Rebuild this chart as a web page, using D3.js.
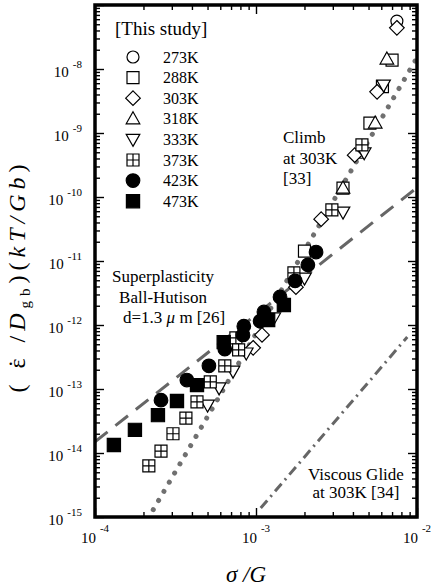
<!DOCTYPE html>
<html>
<head>
<meta charset="utf-8">
<script src="https://cdn.jsdelivr.net/npm/d3@7"></script>
<style>
  body { margin: 0; background: #fff; }
  text { font-family: "Liberation Serif", "Times New Roman", serif; fill: #000; }
</style>
</head>
<body>
<div id="chart"></div>
<script>
// [sigma/G, rate] pairs
const k273 = [[7.5e-3, 5.6e-8], [4.5e-3, 5.0e-10]];
const k288 = [[7.0e-3, 1.38e-8], [6.1e-3, 5.3e-9], [5.1e-3, 1.43e-9], [3.47e-3, 1.38e-10], [2.0e-3, 1.43e-11]];
const k303 = [[7.5e-3, 4.4e-8], [5.65e-3, 4.4e-9], [4.1e-3, 4.5e-10], [2.54e-3, 4.5e-11],
              [1.77e-3, 3.9e-12], [1.09e-3, 7.0e-13], [9.6e-4, 4.4e-13]];
const k318 = [[6.5e-3, 1.43e-8], [5.5e-3, 1.43e-9], [3.47e-3, 1.38e-10]];
const k333 = [[6.2e-3, 5.6e-9], [4.7e-3, 4.9e-10], [3.47e-3, 5.8e-11], [2.0e-3, 5.4e-12],
              [1.29e-3, 1.29e-12], [8.7e-4, 3.65e-13], [7.2e-4, 1.9e-13], [5.9e-4, 1.04e-13], [5.0e-4, 5.6e-14]];
const k373 = [[4.55e-3, 6.5e-10], [2.96e-3, 6.3e-11], [1.72e-3, 6.5e-12], [7.5e-4, 6.3e-13],
              [7.8e-4, 4.1e-13], [6.4e-4, 2.3e-13], [5.2e-4, 1.29e-13], [4.3e-4, 6.3e-14],
              [3.67e-4, 3.5e-14], [3.05e-4, 2.0e-14], [2.57e-4, 1.07e-14], [2.16e-4, 6.3e-15]];
const k423 = [[2.36e-3, 1.38e-11], [2.1e-3, 8.7e-12], [1.75e-3, 4.9e-12], [1.41e-3, 2.74e-12],
              [1.12e-3, 1.6e-12], [1.06e-3, 1.15e-12], [8.4e-4, 9.6e-13], [8.3e-4, 7.0e-13],
              [6.4e-4, 4.2e-13], [5.1e-4, 2.3e-13], [3.72e-4, 1.38e-13], [2.57e-4, 6.7e-14]];
const k473 = [[1.49e-3, 2.05e-12], [1.19e-3, 1.2e-12], [6.3e-4, 5.4e-13], [4.3e-4, 1.15e-13],
              [3.23e-4, 6.5e-14], [2.46e-4, 3.9e-14], [1.77e-4, 2.3e-14], [1.31e-4, 1.33e-14]];

const seriesNames = ["273K", "288K", "303K", "318K", "333K", "373K", "423K", "473K"];
const seriesMarks = ["circle", "square", "diamond", "up", "down", "cross", "dot", "block"];
const seriesData = [k273, k288, k303, k318, k333, k373, k423, k473];

// model lines
const climbLine = [[2.3e-4, 1.3e-15], [1e-2, 1.5e-8]];
const superLine = [[1e-4, 1.5e-14], [1e-2, 1.4e-10]];
const glideLine = [[1.07e-3, 1.38e-15], [8.7e-3, 6.5e-13]];

const xDecades = [-4, -3, -2];
const yDecades = [-15, -14, -13, -12, -11, -10, -9, -8];

const width = 432, height = 586;
const margin = { top: 5, right: 15, bottom: 69, left: 95 };
const innerWidth = width - margin.left - margin.right;
const innerHeight = height - margin.top - margin.bottom;

const svg = d3.select("#chart").append("svg")
  .attr("width", width)
  .attr("height", height);

const g = svg.append("g")
  .attr("transform", `translate(${margin.left},${margin.top})`);

const x = d3.scaleLog().domain([1e-4, 1e-2]).range([0, innerWidth]);
const y = d3.scaleLog().domain([1e-15, 1e-7]).range([innerHeight, 0]);

// minor / major tick values
const xMajor = [1e-4, 1e-3, 1e-2];
const xMinor = [];
[-4, -3].forEach(e => { for (let k = 2; k <= 9; k++) xMinor.push(k * Math.pow(10, e)); });
const yMajor = d3.range(-15, -6).map(e => Math.pow(10, e));
const yMinor = [];
d3.range(-15, -7).forEach(e => { for (let k = 2; k <= 9; k++) yMinor.push(k * Math.pow(10, e)); });

function tickAxis(axisFn, scale, vals, len, transform) {
  const a = g.append("g")
    .attr("transform", transform)
    .call(axisFn(scale).tickValues(vals).tickSize(-len).tickFormat(""));
  a.select(".domain").remove();
  a.selectAll("line").attr("stroke", "#000").attr("stroke-width", 1.4);
}
tickAxis(d3.axisBottom, x, xMajor, 9, `translate(0,${innerHeight})`);
tickAxis(d3.axisBottom, x, xMinor, 5, `translate(0,${innerHeight})`);
tickAxis(d3.axisTop, x, xMajor, 9, "translate(0,0)");
tickAxis(d3.axisTop, x, xMinor, 5, "translate(0,0)");
tickAxis(d3.axisLeft, y, yMajor, 9, "translate(0,0)");
tickAxis(d3.axisLeft, y, yMinor, 5, "translate(0,0)");
tickAxis(d3.axisRight, y, yMajor, 9, `translate(${innerWidth},0)`);
tickAxis(d3.axisRight, y, yMinor, 5, `translate(${innerWidth},0)`);

// tick labels 10^n
xDecades.forEach(e => {
  const t = g.append("text")
    .attr("x", x(Math.pow(10, e)))
    .attr("y", innerHeight + 26)
    .attr("text-anchor", "middle")
    .style("font-size", "15px");
  t.append("tspan").text("10");
  t.append("tspan").attr("dx", 4).attr("dy", -11).style("font-size", "11px").text(e);
});
yDecades.forEach(e => {
  const t = g.append("text")
    .attr("x", -13)
    .attr("y", y(Math.pow(10, e)) + 8)
    .attr("text-anchor", "end")
    .style("font-size", "15px");
  t.append("tspan").text("10");
  t.append("tspan").attr("dx", 4).attr("dy", -9).style("font-size", "11px").text(e);
});

// model lines
const line = d3.line().x(d => x(d[0])).y(d => y(d[1]));
g.append("path").datum(superLine).attr("d", line)
  .attr("fill", "none").attr("stroke", "#666").attr("stroke-width", 3)
  .attr("stroke-dasharray", "16 10");
g.append("path").datum(glideLine).attr("d", line)
  .attr("fill", "none").attr("stroke", "#666").attr("stroke-width", 3)
  .attr("stroke-dasharray", "10 5 2 5");
g.append("path").datum(climbLine).attr("d", line)
  .attr("fill", "none").attr("stroke", "#707070").attr("stroke-width", 5)
  .attr("stroke-linecap", "round")
  .attr("stroke-dasharray", "0.1 10.5");

// marker shapes
function markPath(type) {
  const h = 6;
  if (type === "circle") return `M${-h},0A${h},${h} 0 1,0 ${h},0A${h},${h} 0 1,0 ${-h},0Z`;
  if (type === "dot") { const r = 6.8; return `M${-r},0A${r},${r} 0 1,0 ${r},0A${r},${r} 0 1,0 ${-r},0Z`; }
  if (type === "square") return `M${-h},${-h}H${h}V${h}H${-h}Z`;
  if (type === "block") { const b = 6.6; return `M${-b},${-b}H${b}V${b}H${-b}Z`; }
  if (type === "diamond") { const d = 7.3; return `M0,${-d}L${d},0L0,${d}L${-d},0Z`; }
  if (type === "up") return `M0,${-7}L${6.8},${5}L${-6.8},${5}Z`;
  if (type === "down") return `M0,${7}L${6.8},${-5}L${-6.8},${-5}Z`;
  if (type === "cross") return `M${-h},${-h}H${h}V${h}H${-h}ZM${-h},0H${h}M0,${-h}V${h}`;
}
function styleMark(sel, type) {
  const filled = type === "dot" || type === "block";
  sel.attr("d", markPath(type))
    .attr("fill", filled ? "#000" : "#fff")
    .attr("stroke", "#000")
    .attr("stroke-width", 1.2);
}

seriesData.forEach((data, i) => {
  g.selectAll(".m" + i)
    .data(data)
    .enter()
    .append("path")
    .attr("class", "m" + i)
    .attr("transform", d => `translate(${x(d[0])},${y(d[1])})`)
    .call(styleMark, seriesMarks[i]);
});

// frame
g.append("rect")
  .attr("width", innerWidth).attr("height", innerHeight)
  .attr("fill", "none").attr("stroke", "#000").attr("stroke-width", 3.5);

// legend
const legend = g.append("g").attr("transform", "translate(0,0)");
legend.append("text").attr("x", 20).attr("y", 30)
  .style("font-size", "19px").text("[This study]");
const legendItem = legend.selectAll(".legend-item")
  .data(seriesNames)
  .enter()
  .append("g")
  .attr("class", "legend-item")
  .attr("transform", (d, i) => `translate(38,${52 + i * 20.6})`);
legendItem.append("path").each(function (d, i) { d3.select(this).call(styleMark, seriesMarks[i]); });
legendItem.append("text")
  .attr("x", 30).attr("y", 5.5)
  .style("font-size", "16px")
  .text(d => d);

// annotations
function note(lines, x0, y0, anchor) {
  lines.forEach((s, i) => {
    g.append("text").attr("x", x0).attr("y", y0 + i * 20.5)
      .attr("text-anchor", anchor).style("font-size", "17px").text(s);
  });
}
note(["Climb", "at 303K", "[33]"], 188, 138, "start");
note(["Superplasticity", "Ball-Hutison"], 68, 277, "middle");
const dText = g.append("text").attr("x", 28).attr("y", 318).style("font-size", "17px");
dText.append("tspan").text("d=1.3 ");
dText.append("tspan").style("font-style", "italic").text("\u03bc");
dText.append("tspan").text(" m [26]");
note(["Viscous Glide"], 261, 475, "middle");
note(["at 303K [34]"], 261, 493, "middle");

// axis titles
const xt = svg.append("text")
  .attr("x", 246).attr("y", 582)
  .attr("text-anchor", "middle")
  .style("font-size", "23px")
  .style("font-style", "italic");
xt.append("tspan").text("\u03c3 /G");

const yt = svg.append("text")
  .attr("transform", "translate(25,276) rotate(-90)")
  .attr("text-anchor", "middle")
  .style("font-size", "24px")
  .style("letter-spacing", "5px");
yt.append("tspan").text("( ");
yt.append("tspan").style("letter-spacing", "0px").text("\u03b5");
yt.append("tspan").attr("dx", -9.3).style("letter-spacing", "0px").text("\u02d9");
yt.append("tspan").attr("dx", 6.3).text(" /");
yt.append("tspan").style("font-style", "italic").text("D");
yt.append("tspan").attr("dy", 5).style("font-size", "15px").text("gb");
yt.append("tspan").attr("dy", -5).text(")(");
yt.append("tspan").style("font-style", "italic").text("kT/Gb");
yt.append("tspan").text(")");
</script>
</body>
</html>
